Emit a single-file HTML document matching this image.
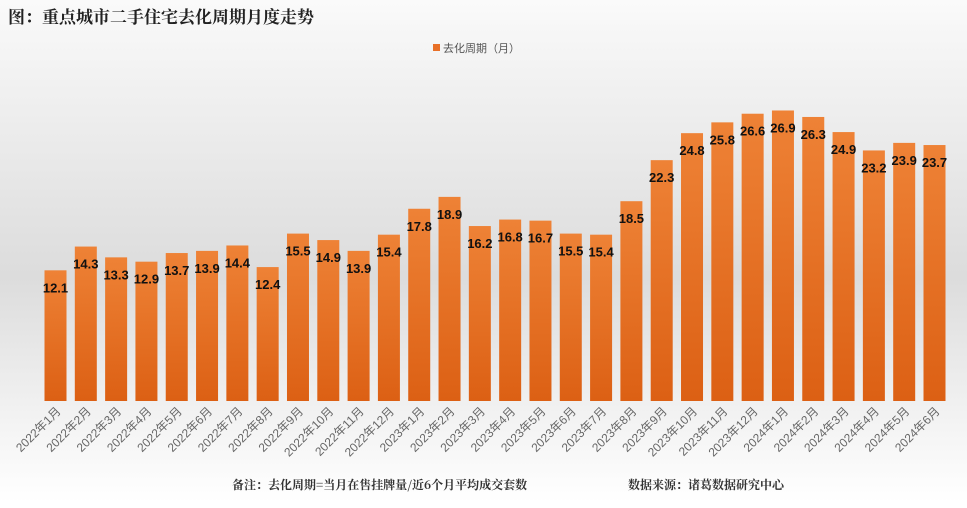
<!DOCTYPE html>
<html><head><meta charset="utf-8"><style>
body{margin:0;width:967px;height:503px;overflow:hidden;background:#fff;font-family:"Liberation Sans","Noto Sans CJK SC",sans-serif}
</style></head><body>
<svg id="c" width="967" height="503" xmlns="http://www.w3.org/2000/svg">
<defs>
<linearGradient id="bg" x1="0" y1="0" x2="0" y2="1"><stop offset="0" stop-color="#fafafa"/><stop offset="0.55" stop-color="#dcdcdc"/><stop offset="0.85" stop-color="#f4f4f4"/><stop offset="1" stop-color="#ffffff"/></linearGradient>
<linearGradient id="bar" x1="0" y1="0" x2="0" y2="1"><stop offset="0" stop-color="#ee8236"/><stop offset="1" stop-color="#dc6014"/></linearGradient>
</defs>
<rect x="0" y="0" width="967" height="503" fill="url(#bg)"/>
<text x="8" y="23" font-size="17" font-weight="bold" fill="#222" font-family="'Noto Serif CJK SC','Noto Sans CJK SC',serif">图：重点城市二手住宅去化周期月度走势</text>
<rect x="433" y="44" width="7" height="7" fill="#e87028"/>
<text x="443" y="52" font-size="11" fill="#555">去化周期（月）</text>
<g id="bars"></g>
<text x="232" y="489" font-size="12" font-weight="bold" fill="#333" font-family="'Noto Serif CJK SC','Noto Sans CJK SC',serif">备注：去化周期=当月在售挂牌量/近6个月平均成交套数</text>
<text x="628" y="489" font-size="12" font-weight="bold" fill="#333" font-family="'Noto Serif CJK SC','Noto Sans CJK SC',serif">数据来源：诸葛数据研究中心</text>
</svg>
<script>
const categories=["2022年1月","2022年2月","2022年3月","2022年4月","2022年5月","2022年6月","2022年7月","2022年8月","2022年9月","2022年10月","2022年11月","2022年12月","2023年1月","2023年2月","2023年3月","2023年4月","2023年5月","2023年6月","2023年7月","2023年8月","2023年9月","2023年10月","2023年11月","2023年12月","2024年1月","2024年2月","2024年3月","2024年4月","2024年5月","2024年6月"];
const values=[12.1,14.3,13.3,12.9,13.7,13.9,14.4,12.4,15.5,14.9,13.9,15.4,17.8,18.9,16.2,16.8,16.7,15.5,15.4,18.5,22.3,24.8,25.8,26.6,26.9,26.3,24.9,23.2,23.9,23.7];
const NS="http://www.w3.org/2000/svg";
const g=document.getElementById('bars');
const x0=55.5,step=(934.5-55.5)/(categories.length-1),bw=22,base=401,k=10.8;
const xs=i=>x0+i*step, ys=v=>base-v*k;
categories.forEach((c,i)=>{
  const v=values[i],cx=xs(i),top=ys(v);
  const r=document.createElementNS(NS,'rect');
  
  
  r.setAttribute('x',cx-bw/2);r.setAttribute('y',top);r.setAttribute('width',bw);r.setAttribute('height',base-top);
  r.setAttribute('fill','url(#bar)');
  g.appendChild(r);
  const t=document.createElementNS(NS,'text');
  
  
  t.setAttribute('x',cx);t.setAttribute('y',top+22);t.setAttribute('text-anchor','middle');
  t.setAttribute('font-size','13');t.setAttribute('font-weight','bold');t.setAttribute('fill','#111');
  t.textContent=v.toFixed(1);g.appendChild(t);
  const l=document.createElementNS(NS,'text');
  
  
  l.setAttribute('x',cx+6);l.setAttribute('y',412);l.setAttribute('text-anchor','end');
  l.setAttribute('font-size','12');l.setAttribute('fill','#666');
  l.setAttribute('transform','rotate(-45 '+(cx+6)+' 412)');
  l.textContent=c;g.appendChild(l);
});
</script>
</body></html>
